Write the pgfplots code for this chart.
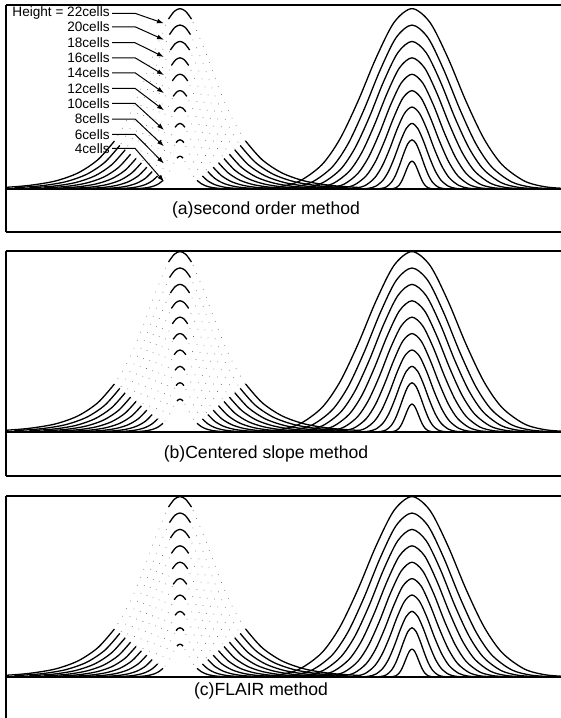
\documentclass[border=0pt]{standalone}
\usepackage{fontspec}
\setmainfont{Liberation Sans}
\usepackage{pgfplots}
\usepackage{pgfplotstable}
\pgfplotsset{compat=1.18}
\usetikzlibrary{arrows.meta}

% left family: peaks at x=180, heights 22..4 cells (v=1 where the trace is visible)
\pgfplotstableread{
v xa ya xb yb xc yc xd yd xe ye xf yf xg yg xh yh xi yi xj yj
1 6.0 0.21 14.5 0.16 29.3 0.15 44.2 0.13 59.0 0.11 73.9 0.10 88.7 0.08 103.6 0.07 118.4 0.05 133.3 0.03
1 29.1 0.44 41.5 0.40 54.0 0.36 66.4 0.32 78.8 0.28 91.2 0.24 103.6 0.20 116.1 0.16 128.5 0.12 140.9 0.08
1 55.4 0.98 65.6 0.89 75.9 0.80 86.1 0.72 96.4 0.63 106.7 0.54 116.9 0.45 127.2 0.36 137.4 0.27 147.7 0.18
1 78.3 1.98 86.7 1.80 95.1 1.62 103.4 1.44 111.8 1.26 120.2 1.08 128.5 0.90 136.9 0.72 145.3 0.54 153.7 0.36
1 98.0 3.59 104.8 3.26 111.5 2.94 118.3 2.61 125.0 2.28 131.8 1.96 138.5 1.63 145.3 1.30 152.0 0.98 158.8 0.65
1 114.4 5.85 119.8 5.32 125.2 4.78 130.6 4.25 136.0 3.72 141.4 3.19 146.8 2.66 152.2 2.13 157.6 1.59 163.0 1.06
0 129.2 8.94 133.3 8.12 137.5 7.31 141.7 6.50 145.9 5.69 150.1 4.87 154.3 4.06 158.5 3.25 162.6 2.44 166.8 1.62
0 142.3 12.66 145.4 11.51 148.5 10.36 151.6 9.21 154.7 8.06 157.8 6.91 160.9 5.76 164.0 4.60 167.1 3.45 170.2 2.30
0 155.4 16.99 157.4 15.45 159.5 13.90 161.5 12.36 163.5 10.81 165.5 9.27 167.6 7.72 169.6 6.18 171.6 4.63 173.6 3.09
1 168.5 20.72 169.5 18.83 170.4 16.95 171.4 15.07 172.3 13.18 173.2 11.30 174.2 9.42 175.1 7.53 176.1 5.65 177.0 3.77
1 174.3 21.67 174.7 19.70 175.2 17.73 175.7 15.76 176.2 13.79 176.6 11.82 177.1 9.85 177.6 7.88 178.0 5.91 178.5 3.94
1 180 22 180 20 180 18 180 16 180 14 180 12 180 10 180 8 180 6 180 4
1 185.7 21.67 185.3 19.70 184.8 17.73 184.3 15.76 183.9 13.79 183.4 11.82 182.9 9.85 182.4 7.88 182.0 5.91 181.5 3.94
1 191.5 20.72 190.5 18.83 189.6 16.95 188.7 15.07 187.7 13.18 186.8 11.30 185.8 9.42 184.9 7.53 183.9 5.65 183.0 3.77
0 204.6 16.99 202.6 15.45 200.6 13.90 198.5 12.36 196.5 10.81 194.5 9.27 192.5 7.72 190.4 6.18 188.4 4.63 186.4 3.09
0 217.7 12.66 214.6 11.51 211.5 10.36 208.4 9.21 205.3 8.06 202.2 6.91 199.1 5.76 196.0 4.60 192.9 3.45 189.8 2.30
0 230.8 8.94 226.7 8.12 222.5 7.31 218.3 6.50 214.1 5.69 209.9 4.87 205.7 4.06 201.6 3.25 197.4 2.44 193.2 1.62
1 245.6 5.85 240.2 5.32 234.8 4.78 229.4 4.25 224.0 3.72 218.6 3.19 213.2 2.66 207.8 2.13 202.4 1.59 197.0 1.06
1 262.0 3.59 255.3 3.26 248.5 2.94 241.8 2.61 235.0 2.28 228.3 1.96 221.5 1.63 214.8 1.30 208.0 0.98 201.3 0.65
1 281.7 1.98 273.3 1.80 264.9 1.62 256.6 1.44 248.2 1.26 239.8 1.08 231.5 0.90 223.1 0.72 214.7 0.54 206.4 0.36
1 304.6 0.98 294.4 0.89 284.1 0.80 273.9 0.72 263.6 0.63 253.3 0.54 243.1 0.45 232.8 0.36 222.6 0.27 212.3 0.18
1 330.9 0.44 318.5 0.40 306.0 0.36 293.6 0.32 281.2 0.28 268.8 0.24 256.4 0.20 243.9 0.16 231.5 0.12 219.1 0.08
1 360.4 0.18 345.6 0.16 330.7 0.15 315.9 0.13 301.0 0.11 286.2 0.10 271.3 0.08 256.5 0.07 241.6 0.05 226.8 0.03
}\lefttab

% right family: smeared peaks at x=412
\pgfplotstableread{
xa ya xb yb xc yc xd yd xe ye xf yf xg yg xh yh xi yi xj yj
250 0.03 268.7 0.03 283.8 0.03 299.0 0.02 314.4 0.02 329.6 0.02 344.7 0.02 359.8 0.01 374.9 0.01 388.6 0.01
277 0.24 292.6 0.22 305.2 0.20 317.8 0.18 330.7 0.16 343.3 0.13 355.9 0.11 368.5 0.09 381.1 0.07 392.5 0.04
299.5 0.97 312.5 0.88 323.0 0.79 333.5 0.70 344.3 0.61 354.8 0.53 365.3 0.44 375.8 0.35 386.3 0.26 395.8 0.15
322 2.98 332.4 2.71 340.8 2.44 349.2 2.16 357.8 1.89 366.2 1.62 374.6 1.35 383.0 1.08 391.4 0.81 399.0 0.46
340 6.12 348.3 5.56 355.0 5.00 361.8 4.45 368.6 3.89 375.4 3.34 382.1 2.78 388.8 2.22 395.5 1.67 401.6 0.95
358 10.71 364.2 9.74 369.3 8.76 374.3 7.79 379.5 6.82 384.5 5.84 389.6 4.87 394.6 3.89 399.6 2.92 404.2 1.66
376 15.97 380.2 14.52 383.5 13.07 386.9 11.62 390.3 10.17 393.7 8.71 397.0 7.26 400.4 5.81 403.8 4.36 406.8 2.47
394 20.31 396.1 18.46 397.8 16.62 399.4 14.77 401.2 12.92 402.8 11.08 404.5 9.23 406.2 7.38 407.9 5.54 409.4 3.14
412 22 412 20 412 18 412 16 412 14 412 12 412 10 412 8 412 6 412 3.4
430 20.31 427.9 18.46 426.2 16.62 424.6 14.77 422.8 12.92 421.2 11.08 419.5 9.23 417.8 7.38 416.1 5.54 414.6 3.14
448 15.97 443.8 14.52 440.5 13.07 437.1 11.62 433.7 10.17 430.3 8.71 427.0 7.26 423.6 5.81 420.2 4.36 417.2 2.47
466 10.71 459.8 9.74 454.7 8.76 449.7 7.79 444.5 6.82 439.5 5.84 434.4 4.87 429.4 3.89 424.4 2.92 419.8 1.66
484 6.12 475.7 5.56 469.0 5.00 462.2 4.45 455.4 3.89 448.6 3.34 441.9 2.78 435.2 2.22 428.5 1.67 422.4 0.95
502 2.98 491.6 2.71 483.2 2.44 474.8 2.16 466.2 1.89 457.8 1.62 449.4 1.35 441.0 1.08 432.6 0.81 425.0 0.46
524.5 0.97 511.5 0.88 501.0 0.79 490.5 0.70 479.8 0.61 469.3 0.53 458.8 0.44 448.3 0.35 437.8 0.26 428.2 0.15
547 0.24 531.4 0.22 518.8 0.20 506.2 0.18 493.3 0.16 480.7 0.13 468.1 0.11 455.5 0.09 442.9 0.07 431.5 0.04
574 0.03 555.3 0.03 540.2 0.03 525.0 0.02 509.6 0.02 494.4 0.02 479.3 0.02 464.2 0.01 449.1 0.01 435.4 0.01
}\righttab

\pgfplotsset{
  panel/.style={hide axis, clip=false, x=0.5pt, y=4.1pt, xmin=0, xmax=561,
    anchor=south west, unbounded coords=jump},
  curve/.style={black, line width=0.65pt, smooth, mark=none},
  gap/.style={black!70, line width=0.3pt, smooth, mark=none, dash pattern=on 0.3pt off 4pt},
}
\tikzset{frame/.style={black, line width=0.8pt},
  lab/.style={font=\fontsize{6.8}{7.5}\selectfont, inner sep=0pt, anchor=east},
  ttl/.style={font=\fontsize{8.8}{10}\selectfont, inner sep=0pt},
  arr/.style={black, line width=0.5pt, -{Latex[length=3.5pt,width=2.4pt]}}}

\begin{document}
\begin{tikzpicture}
\useasboundingbox (0,0) rectangle (280.5pt,-359pt);

% (a)
\begin{axis}[panel, ymin=-5.24, ymax=22.44, at={(0pt,-116pt)}]
\pgfplotsinvokeforeach{a,b,c,d,e,f,g,h,i,j}{
  \addplot[gap] table[x=x#1,y=y#1]{\lefttab};
  \addplot[curve, restrict expr to domain={\thisrow{v}}{0.5:1.5}] table[x=x#1,y=y#1]{\lefttab};
  \addplot[curve] table[x=x#1,y=y#1]{\righttab};
}
\draw[frame] (axis cs:6,22.44) -- (axis cs:561,22.44);
\draw[frame] (axis cs:6,0) -- (axis cs:561,0);
\draw[frame] (axis cs:6,-5.24) -- (axis cs:561,-5.24);
\draw[frame] (axis cs:6,22.44) -- (axis cs:6,-5.24);
\node[ttl] at (axis cs:266,-2.56) {(a)second order method};
\node[lab] at (axis cs:110,21.43) {Height = 22cells};
\node[lab] at (axis cs:110,19.79) {20cells};
\node[lab] at (axis cs:110,17.84) {18cells};
\node[lab] at (axis cs:110,16.01) {16cells};
\node[lab] at (axis cs:110,14.18) {14cells};
\node[lab] at (axis cs:110,12.28) {12cells};
\node[lab] at (axis cs:110,10.45) {10cells};
\node[lab] at (axis cs:110,8.54) {8cells};
\node[lab] at (axis cs:110,6.67) {6cells};
\node[lab] at (axis cs:110,4.96) {4cells};
\draw[arr] (axis cs:112,21.43) -- (axis cs:135,21.43) -- (axis cs:164,20.2);
\draw[arr] (axis cs:112,19.79) -- (axis cs:135,19.79) -- (axis cs:164,18.2);
\draw[arr] (axis cs:112,17.84) -- (axis cs:135,17.84) -- (axis cs:164,16.1);
\draw[arr] (axis cs:112,16.01) -- (axis cs:135,16.01) -- (axis cs:164,13.9);
\draw[arr] (axis cs:112,14.18) -- (axis cs:135,14.18) -- (axis cs:164,11.7);
\draw[arr] (axis cs:112,12.28) -- (axis cs:135,12.28) -- (axis cs:164,9.6);
\draw[arr] (axis cs:112,10.45) -- (axis cs:135,10.45) -- (axis cs:164,7.2);
\draw[arr] (axis cs:112,8.54) -- (axis cs:135,8.54) -- (axis cs:164,5.2);
\draw[arr] (axis cs:112,6.67) -- (axis cs:135,6.67) -- (axis cs:164,3.1);
\draw[arr] (axis cs:112,4.96) -- (axis cs:135,4.96) -- (axis cs:164,0.9);
\end{axis}

% (b)
\begin{axis}[panel, ymin=-5.37, ymax=22.07, at={(0pt,-238pt)}]
\pgfplotsinvokeforeach{a,b,c,d,e,f,g,h,i,j}{
  \addplot[gap] table[x=x#1,y=y#1]{\lefttab};
  \addplot[curve, restrict expr to domain={\thisrow{v}}{0.5:1.5}] table[x=x#1,y=y#1]{\lefttab};
  \addplot[curve] table[x=x#1,y=y#1]{\righttab};
}
\draw[frame] (axis cs:6,22.07) -- (axis cs:561,22.07);
\draw[frame] (axis cs:6,0) -- (axis cs:561,0);
\draw[frame] (axis cs:6,-5.37) -- (axis cs:561,-5.37);
\draw[frame] (axis cs:6,22.07) -- (axis cs:6,-5.37);
\node[ttl] at (axis cs:266,-2.68) {(b)Centered slope method};
\end{axis}

% (c)
\begin{axis}[panel, ymin=-5.0, ymax=22.07, at={(0pt,-359pt)}]
\pgfplotsinvokeforeach{a,b,c,d,e,f,g,h,i,j}{
  \addplot[gap] table[x=x#1,y=y#1]{\lefttab};
  \addplot[curve, restrict expr to domain={\thisrow{v}}{0.5:1.5}] table[x=x#1,y=y#1]{\lefttab};
  \addplot[curve] table[x=x#1,y=y#1]{\righttab};
}
\draw[frame] (axis cs:6,22.07) -- (axis cs:561,22.07);
\draw[frame] (axis cs:6,0) -- (axis cs:561,0);
\draw[frame] (axis cs:6,22.07) -- (axis cs:6,-5.0);
\node[ttl] at (axis cs:261,-1.7) {(c)FLAIR method};
\end{axis}
\end{tikzpicture}
\end{document}
